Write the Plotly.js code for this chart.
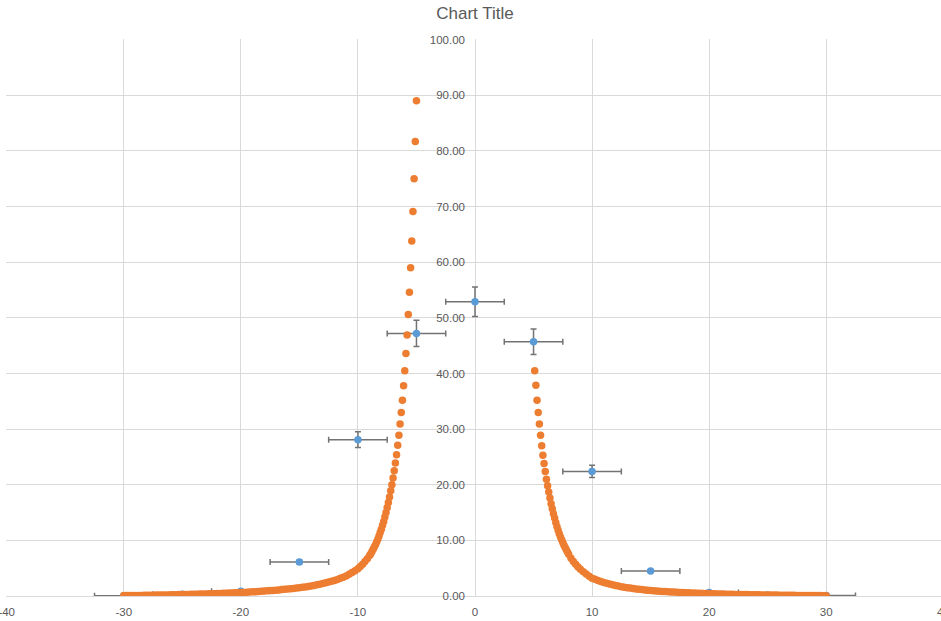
<!DOCTYPE html>
<html>
<head>
<meta charset="utf-8">
<script src="https://cdn.plot.ly/plotly-3.0.1.min.js"></script>
<style>
html, body { margin: 0; padding: 0; overflow: hidden; background: #fff; }
#chart { width: 944px; height: 621px; }
</style>
</head>
<body>
<div id="chart"></div>
<script>
// Blue series (measurements with error bars)
const blueX = [-30, -25, -20, -15, -10, -5, 0, 5, 10, 15, 20, 25, 30];
const blueY = [0.05, 0.3, 0.85, 6.1, 28.1, 47.2, 52.9, 45.7, 22.4, 4.5, 0.65, 0.2, 0.1];
const blueXErr = 2.5;      // constant horizontal error
const blueYErrPct = 5;     // percent vertical error

// Orange series, left branch
const leftX = [-5,-5.1,-5.2,-5.3,-5.4,-5.5,-5.6,-5.7,-5.8,-5.9,-6,-6.1,-6.2,-6.3,-6.4,-6.5,-6.6,-6.7,-6.8,-6.9,-7,-7.1,-7.2,-7.3,-7.4,-7.5,-7.6,-7.7,-7.8,-7.9,-8,-8.1,-8.2,-8.3,-8.4,-8.5,-8.6,-8.7,-8.8,-8.9,-9,
  -9.2,-9.4,-9.6,-9.8,
  -10,-10.25,-10.5,-10.75,-11,-11.25,-11.5,-11.75,-12,-12.25,-12.5,-12.75,-13,-13.25,-13.5,-13.75,-14,-14.25,-14.5,-14.75,-15,-15.25,-15.5,-15.75,-16,-16.25,-16.5,-16.75,-17,-17.25,-17.5,-17.75,-18,-18.25,-18.5,-18.75,-19,-19.25,-19.5,-19.75,-20,
  -20.25,-20.5,-20.75,-21,-21.25,-21.5,-21.75,-22,-22.25,-22.5,-22.75,-23,-23.25,-23.5,-23.75,-24,-24.25,-24.5,-24.75,-25,-25.25,-25.5,-25.75,-26,-26.25,-26.5,-26.75,-27,-27.25,-27.5,-27.75,-28,-28.25,-28.5,-28.75,-29,-29.25,-29.5,-29.75,-30];
const leftY = [89.0,81.7,75.0,69.1,63.8,59.0,54.6,50.6,46.9,43.6,40.5,37.8,35.2,33.0,30.9,28.9,27.1,25.4,23.9,22.5,21.2,20.0,18.9,17.8,16.8,15.9,15.0,14.2,13.4,12.7,12.0,11.4,10.8,10.2,9.7,9.2,8.8,8.4,8.0,7.6,7.3,
  6.7,6.2,5.7,5.3,
  4.90,4.55,4.22,3.90,3.60,3.38,3.17,2.98,2.80,2.65,2.51,2.38,2.25,2.13,2.01,1.90,1.80,1.72,1.64,1.57,1.50,1.43,1.37,1.31,1.25,1.20,1.15,1.10,1.05,1.01,0.97,0.93,0.90,0.86,0.82,0.78,0.75,0.72,0.68,0.65,0.62,
  0.60,0.57,0.55,0.52,0.50,0.48,0.46,0.44,0.42,0.40,0.39,0.37,0.35,0.34,0.32,0.31,0.30,0.28,0.27,0.26,0.25,0.23,0.22,0.21,0.20,0.19,0.18,0.17,0.16,0.15,0.14,0.13,0.12,0.11,0.11,0.10,0.09,0.08,0.08,0.07];

// Orange series, right branch
const rightX = [5.1,5.2,5.3,5.4,5.5,5.6,5.7,5.8,5.9,6,6.1,6.2,6.3,6.4,6.5,6.6,6.7,6.8,6.9,7,7.1,7.2,7.3,7.4,7.5,7.6,7.7,7.8,7.9,8,
  8.2,8.4,8.6,8.8,
  9,9.25,9.5,9.75,10,10.25,10.5,10.75,11,11.25,11.5,11.75,12,12.25,12.5,12.75,13,13.25,13.5,13.75,14,14.25,14.5,14.75,15,15.25,15.5,15.75,16,16.25,16.5,16.75,17,17.25,17.5,17.75,18,18.25,18.5,18.75,19,19.25,19.5,19.75,20,
  20.25,20.5,20.75,21,21.25,21.5,21.75,22,22.25,22.5,22.75,23,23.25,23.5,23.75,24,24.25,24.5,24.75,25,25.25,25.5,25.75,26,26.25,26.5,26.75,27,27.25,27.5,27.75,28,28.25,28.5,28.75,29,29.25,29.5,29.75,30];
const rightY = [40.5,37.9,35.2,33.0,30.9,28.9,27.0,25.3,23.8,22.4,21.0,19.8,18.7,17.6,16.6,15.7,14.8,14.0,13.2,12.5,11.8,11.2,10.6,10.1,9.6,9.1,8.7,8.3,7.9,7.5,
  6.8,6.2,5.7,5.2,
  4.80,4.35,3.95,3.55,3.20,3.00,2.80,2.60,2.42,2.28,2.14,2.00,1.88,1.78,1.68,1.59,1.50,1.42,1.35,1.28,1.21,1.15,1.10,1.04,0.99,0.95,0.91,0.87,0.83,0.80,0.77,0.74,0.71,0.68,0.65,0.62,0.59,0.57,0.54,0.52,0.50,0.48,0.46,0.44,0.42,
  0.40,0.39,0.37,0.36,0.34,0.33,0.31,0.30,0.29,0.28,0.27,0.26,0.25,0.24,0.23,0.22,0.21,0.20,0.19,0.18,0.17,0.17,0.16,0.15,0.14,0.14,0.13,0.12,0.12,0.11,0.10,0.10,0.09,0.09,0.08,0.08,0.07,0.07,0.06,0.06];

// Axis ticks
const xTicks = [-40, -30, -20, -10, 0, 10, 20, 30, 40];
const yTicks = [0, 10, 20, 30, 40, 50, 60, 70, 80, 90, 100];

const FONT = 'Liberation Sans, Arial, sans-serif';
const TXT = '#595959';
const GRID = '#d9d9d9';

const blue = {
  type: 'scatter', mode: 'markers',
  x: blueX, y: blueY,
  marker: { color: '#5b9bd5', size: 7.5 },
  error_x: { type: 'constant', value: blueXErr, symmetric: true, color: '#737373', thickness: 1.5, width: 3 },
  error_y: { type: 'percent', value: blueYErrPct, symmetric: true, color: '#737373', thickness: 1.5, width: 3 },
  hoverinfo: 'x+y'
};
const orange = {
  type: 'scatter', mode: 'markers',
  x: leftX.concat(rightX), y: leftY.concat(rightY),
  marker: { color: '#ed7d31', size: 7.5 },
  hoverinfo: 'x+y'
};

const layout = {
  width: 944, height: 621,
  margin: { l: 6, r: 0, t: 39, b: 25 },
  paper_bgcolor: '#fff', plot_bgcolor: '#fff',
  showlegend: false,
  title: { text: 'Chart Title', font: { family: FONT, size: 17, color: TXT },
           xref: 'paper', x: 0.5, xanchor: 'center', yref: 'container', y: 1 - 13/621, yanchor: 'middle' },
  xaxis: {
    range: [-40.06, 40.06], tickvals: xTicks, ticktext: xTicks.map(String),
    showgrid: true, gridcolor: GRID, gridwidth: 1, zeroline: false,
    showline: true, linecolor: GRID, linewidth: 1,
    ticks: '', ticklabelstandoff: 5, ticklabeloverflow: 'allow',
    tickfont: { family: FONT, size: 11.5, color: TXT },
    fixedrange: true
  },
  yaxis: {
    range: [0, 100.12], tickvals: yTicks, ticktext: yTicks.map(v => v.toFixed(2)),
    anchor: 'free', position: 0.5, side: 'left',
    showgrid: true, gridcolor: GRID, gridwidth: 1, zeroline: false,
    showline: false, ticks: '', ticklabelstandoff: 10,
    tickfont: { family: FONT, size: 11.5, color: TXT },
    fixedrange: true
  }
};

Plotly.newPlot('chart', [blue, orange], layout, { displayModeBar: false, staticPlot: true });
</script>
</body>
</html>
